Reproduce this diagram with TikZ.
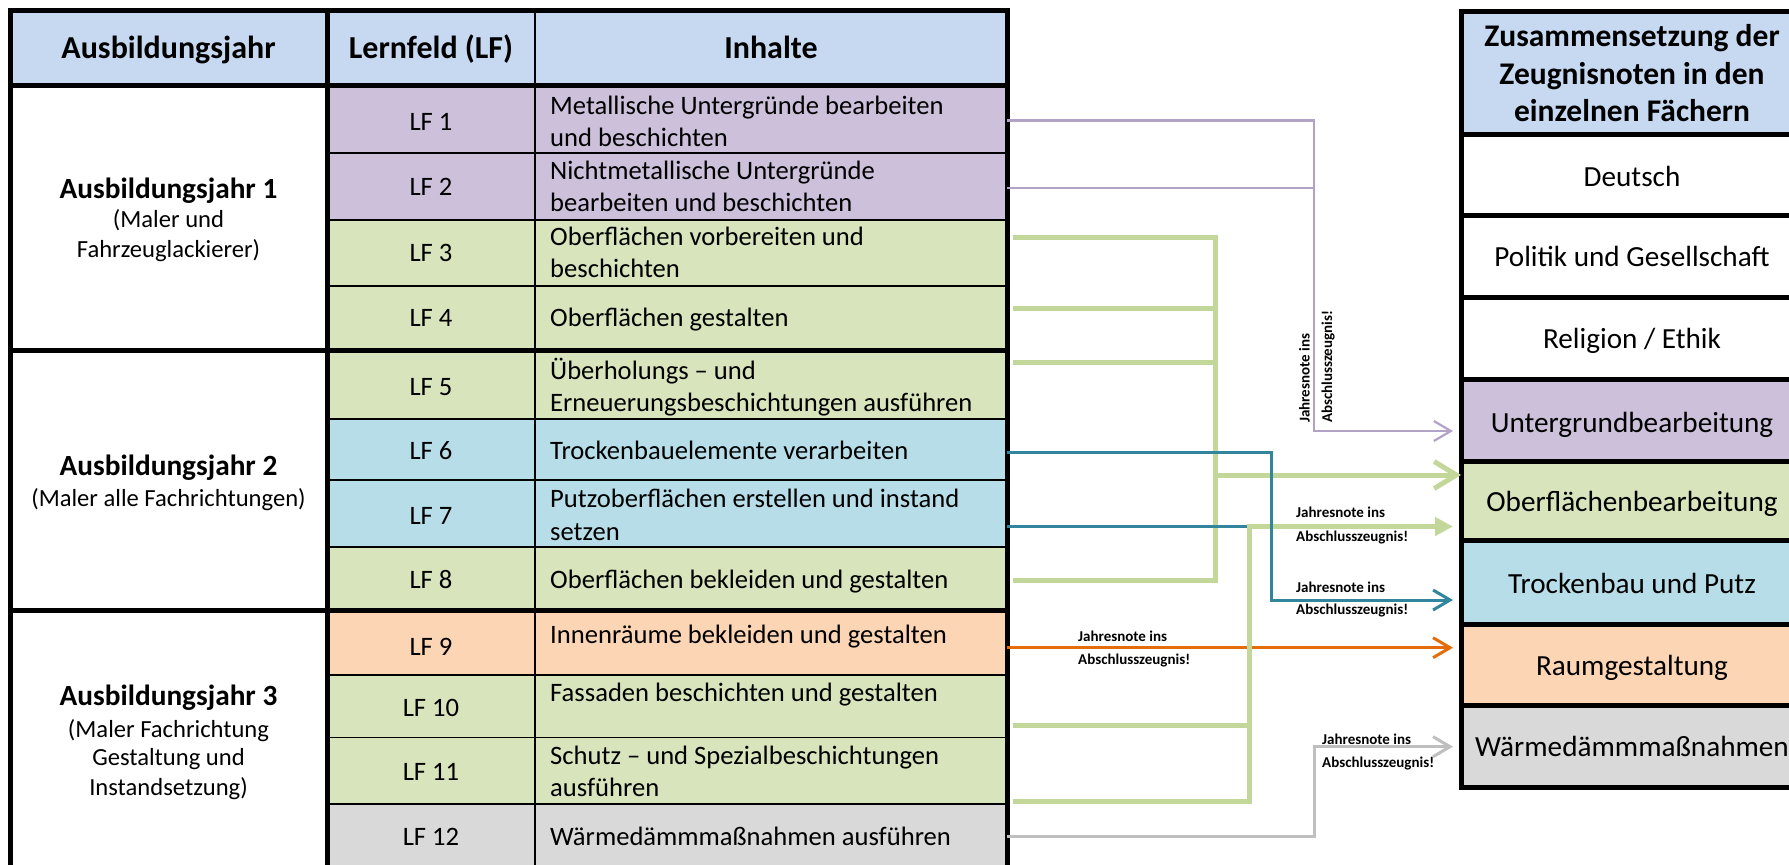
\documentclass[tikz,border=0pt]{standalone}
\usepackage{fontspec}
\setmainfont{Carlito}
\usetikzlibrary{arrows.meta}
\definecolor{hdr}{HTML}{C6D9F1}
\definecolor{pur}{HTML}{CCC0DA}
\definecolor{grn}{HTML}{D8E4BC}
\definecolor{blu}{HTML}{B7DEE8}
\definecolor{org}{HTML}{FCD5B4}
\definecolor{gry}{HTML}{D9D9D9}
\definecolor{purL}{HTML}{B3A2C7}
\definecolor{grnL}{HTML}{C4D79B}
\definecolor{bluL}{HTML}{31859C}
\definecolor{orgL}{HTML}{E46C0A}
\definecolor{gryL}{HTML}{BFBFBF}
\begin{document}
\begin{tikzpicture}[x=1pt,y=-1pt,
  rowline/.style={line width=1.6pt,black},
  boldline/.style={line width=5pt,black,line join=miter},
  hdrtext/.style={font=\fontsize{32}{38}\selectfont\bfseries,anchor=base,inner sep=0pt},
  lftext/.style={font=\fontsize{26.6}{32}\selectfont,anchor=base,inner sep=0pt},
  intext/.style={font=\fontsize{26.6}{32}\selectfont,anchor=base west,inner sep=0pt},
  yeartext/.style={font=\fontsize{29.3}{35}\selectfont\bfseries,anchor=base,inner sep=0pt},
  subtext/.style={font=\fontsize{24.6}{29}\selectfont,anchor=base,inner sep=0pt},
  boxtext/.style={font=\fontsize{29.2}{35}\selectfont,anchor=base,inner sep=0pt},
  boxhdr/.style={font=\fontsize{31.5}{37}\selectfont\bfseries,anchor=base,inner sep=0pt},
  note/.style={font=\fontsize{15}{18}\selectfont\bfseries,anchor=base west,inner sep=0pt},
  purpleline/.style={purL,line width=2.2pt},
  greenline/.style={grnL,line width=5pt,line join=miter},
  blueline/.style={bluL,line width=3pt,line join=miter},
  orangeline/.style={orgL,line width=3pt},
  greyline/.style={gryL,line width=3pt,line join=miter},
  tipthin/.style={-{Straight Barb[length=17pt,width=20pt]}},
  tipbig/.style={-{Straight Barb[length=22pt,width=27pt]}},
  tipfilled/.style={-{Triangle[length=18pt,width=18pt]}}
]
\useasboundingbox (0,0) rectangle (1789,865);
\clip (0,0) rectangle (1789,865);

% ---------- left table fills ----------
\fill[hdr] (10,10) rectangle (1007,85);
\fill[pur] (327,85) rectangle (1007,220);
\fill[grn] (327,220) rectangle (1007,419);
\fill[blu] (327,419) rectangle (1007,547);
\fill[grn] (327,547) rectangle (1007,610.5);
\fill[org] (327,610.5) rectangle (1007,675);
\fill[grn] (327,675) rectangle (1007,804);
\fill[gry] (327,804) rectangle (1007,880);

% ---------- left table lines ----------
\foreach \yy in {153,220,286,419,480,547,675,737.5,804}
  \draw[rowline] (327,\yy) -- (1007,\yy);
\draw[rowline] (535,10) -- (535,880);
\draw[boldline] (10,10) rectangle (1007,880);
\draw[boldline] (10,85) -- (1007,85);
\draw[boldline] (327,10) -- (327,880);
\draw[boldline] (10,350) -- (1007,350);
\draw[boldline] (10,610.5) -- (1007,610.5);

% ---------- right table ----------
\fill[hdr] (1461,11) rectangle (1810,134.5);
\fill[pur] (1461,379.5) rectangle (1810,461);
\fill[grn] (1461,461) rectangle (1810,540);
\fill[blu] (1461,540) rectangle (1810,624);
\fill[org] (1461,624) rectangle (1810,705.5);
\fill[gry] (1461,705.5) rectangle (1810,787.5);
\draw[boldline] (1461,11) rectangle (1810,787.5);
\foreach \yy in {134.5,215.5,297,379.5,461,540,624,705.5}
  \draw[boldline] (1461,\yy) -- (1810,\yy);

% ---------- header texts ----------
\node[hdrtext] (h1) at (168.5,58.5) {Ausbildungsjahr};
\node[hdrtext] (h2) at (431,58.5) {Lernfeld (LF)};
\node[hdrtext] (h3) at (771,58.5) {Inhalte};

% ---------- year texts ----------
\node[yeartext] (y1) at (168.5,198.3) {Ausbildungsjahr 1};
\node[subtext] (y1a) at (168.5,227.7) {(Maler und};
\node[subtext] (y1b) at (168.5,257.3) {Fahrzeuglackierer)};
\node[yeartext] (y2) at (168.5,475) {Ausbildungsjahr 2};
\node[subtext] (y2a) at (168.5,506.7) {(Maler alle Fachrichtungen)};
\node[yeartext] (y3) at (168.5,705) {Ausbildungsjahr 3};
\node[subtext] (y3a) at (168.5,737.3) {(Maler Fachrichtung};
\node[subtext] (y3b) at (168.5,765) {Gestaltung und};
\node[subtext] (y3c) at (168.5,795) {Instandsetzung)};

% ---------- LF labels ----------
\node[lftext] (lf1) at (431,130.7) {LF 1};
\node[lftext] (lf2) at (431,195.7) {LF 2};
\node[lftext] (lf3) at (431,261.7) {LF 3};
\node[lftext] (lf4) at (431,326.7) {LF 4};
\node[lftext] (lf5) at (431,395.7) {LF 5};
\node[lftext] (lf6) at (431,459.3) {LF 6};
\node[lftext] (lf7) at (431,524) {LF 7};
\node[lftext] (lf8) at (431,588.3) {LF 8};
\node[lftext] (lf9) at (431,655) {LF 9};
\node[lftext] (lf10) at (431,716.7) {LF 10};
\node[lftext] (lf11) at (431,780.7) {LF 11};
\node[lftext] (lf12) at (431,845) {LF 12};

% ---------- Inhalte ----------
\node[intext] (i1a) at (550,114.5) {Metallische Untergründe bearbeiten};
\node[intext] (i1b) at (550,146.9) {und beschichten};
\node[intext] (i2a) at (550,179.5) {Nichtmetallische Untergründe};
\node[intext] (i2b) at (550,211.9) {bearbeiten und beschichten};
\node[intext] (i3a) at (550,245.5) {Oberflächen vorbereiten und};
\node[intext] (i3b) at (550,277.9) {beschichten};
\node[intext] (i4) at (550,326.7) {Oberflächen gestalten};
\node[intext] (i5a) at (550,379.5) {Überholungs – und};
\node[intext] (i5b) at (550,411.9) {Erneuerungsbeschichtungen ausführen};
\node[intext] (i6) at (550,459.3) {Trockenbauelemente verarbeiten};
\node[intext] (i7a) at (550,507.8) {Putzoberflächen erstellen und instand};
\node[intext] (i7b) at (550,540.2) {setzen};
\node[intext] (i8) at (550,588.3) {Oberflächen bekleiden und gestalten};
\node[intext] (i9) at (550,643.5) {Innenräume bekleiden und gestalten};
\node[intext] (i10) at (550,701.7) {Fassaden beschichten und gestalten};
\node[intext] (i11a) at (550,764.5) {Schutz – und Spezialbeschichtungen};
\node[intext] (i11b) at (550,796.9) {ausführen};
\node[intext] (i12) at (550,845) {Wärmedämmmaßnahmen ausführen};

% ---------- right box texts ----------
\node[boxhdr] (r0a) at (1632,46) {Zusammensetzung der};
\node[boxhdr] (r0b) at (1632,84) {Zeugnisnoten in den};
\node[boxhdr] (r0c) at (1632,121.5) {einzelnen Fächern};
\node[boxtext] (r1) at (1632,186.5) {Deutsch};
\node[boxtext] (r2) at (1632,266.7) {Politik und Gesellschaft};
\node[boxtext] (r3) at (1632,348.3) {Religion / Ethik};
\node[boxtext] (r4) at (1632,432.3) {Untergrundbearbeitung};
\node[boxtext] (r5) at (1632,511.7) {Oberflächenbearbeitung};
\node[boxtext] (r6) at (1632,593.3) {Trockenbau und Putz};
\node[boxtext] (r7) at (1632,675) {Raumgestaltung};
\node[boxtext] (r8) at (1632,756) {Wärmedämmmaßnahmen};

% ---------- connector coordinates ----------
\coordinate (lf1o) at (1007,120.5);
\coordinate (lf2o) at (1007,188);
\coordinate (pbend) at (1314,431);
\coordinate (untin) at (1453,431);
\coordinate (g3) at (1013,237.5);
\coordinate (g4) at (1013,308);
\coordinate (g5) at (1013,362.7);
\coordinate (g8) at (1013,580);
\coordinate (gv1) at (1215.5,475);
\coordinate (oberin) at (1461,475);
\coordinate (g10) at (1013,725.5);
\coordinate (g11) at (1013,801);
\coordinate (gv2) at (1249.5,526.5);
\coordinate (ober2in) at (1453,526.5);
\coordinate (lf6o) at (1007,452.7);
\coordinate (bbend) at (1271,600);
\coordinate (trockin) at (1453,600);
\coordinate (lf7o) at (1007,526.5);
\coordinate (lf7e) at (1247,526.5);
\coordinate (lf9o) at (1007,647.7);
\coordinate (raumin) at (1453,647.7);
\coordinate (lf12o) at (1007,836.7);
\coordinate (kbend) at (1314,746.7);
\coordinate (waermin) at (1453,746.7);

% ---------- connectors ----------
\draw[orangeline,tipthin] (lf9o) -- (raumin);
\draw[greyline,tipthin] (lf12o) -| (kbend) -- (waermin);
\draw[purpleline,tipthin] (lf1o) -| (pbend) -- (untin);
\draw[purpleline] (lf2o) -- (lf2o -| pbend);
\draw[greenline] (g3) -| (g8 -| gv1) -- (g8);
\draw[greenline] (g4) -- (g4 -| gv1);
\draw[greenline] (g5) -- (g5 -| gv1);
\draw[greenline,tipbig] (gv1) -- (oberin);
\draw[greenline,tipfilled] (g11) -| (gv2) -- (ober2in);
\draw[greenline] (g10) -- (g10 -| gv2);
\draw[blueline,tipthin] (lf6o) -| (bbend) -- (trockin);
\draw[blueline] (lf7o) -- (lf7e);

% ---------- notes ----------
\node[note,rotate=90] (n1a) at (1309.5,423) {Jahresnote ins};
\node[note,rotate=90] (n1b) at (1332,423) {Abschlusszeugnis!};
\node[note] (n2a) at (1296,517.3) {Jahresnote ins};
\node[note] (n2b) at (1296,541) {Abschlusszeugnis!};
\node[note] (n3a) at (1296,592.7) {Jahresnote ins};
\node[note] (n3b) at (1296,614.3) {Abschlusszeugnis!};
\node[note] (n4a) at (1078,641) {Jahresnote ins};
\node[note] (n4b) at (1078,664.3) {Abschlusszeugnis!};
\node[note] (n5a) at (1322,744.3) {Jahresnote ins};
\node[note] (n5b) at (1322,767.3) {Abschlusszeugnis!};
\end{tikzpicture}
\end{document}
